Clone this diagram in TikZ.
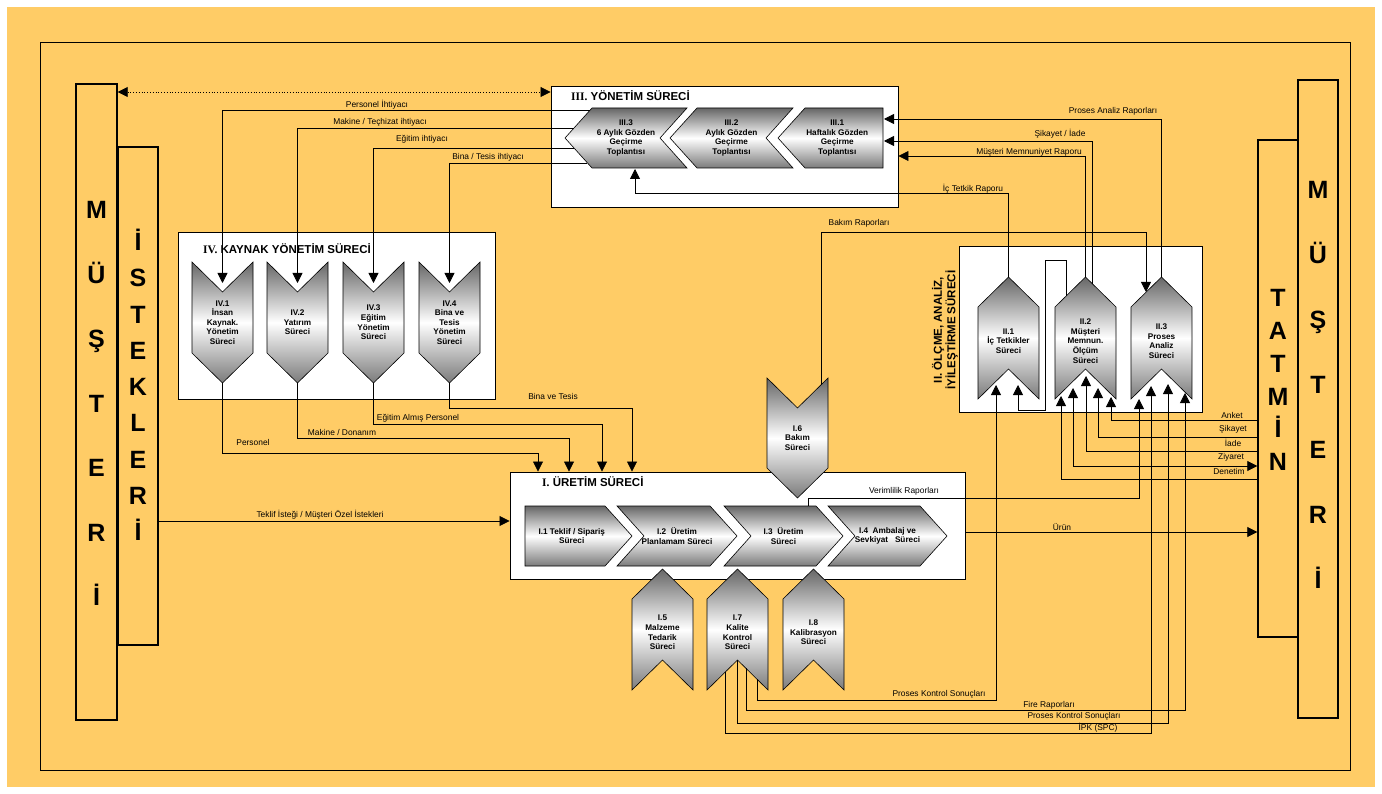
\documentclass[tikz,border=0pt]{standalone}
\usepackage{fontspec}
\setmainfont{Liberation Sans}
\newfontfamily\romfont{Liberation Serif}
\usetikzlibrary{arrows.meta,calc}
\definecolor{bgorange}{HTML}{FFCC66}
\tikzset{
  box/.style={draw,fill=white,line width=0.9pt,inner sep=0pt},
  colbox/.style={draw,fill=bgorange,line width=1.4pt,inner sep=0pt},
  chev/.style={draw,line width=0.6pt,top color=black!60,bottom color=black!52,middle color=white},
  chevtext/.style={font=\bfseries\fontsize{8.2}{9.6}\selectfont,align=center,inner sep=0pt},
  lbl/.style={font=\fontsize{8.4}{9}\selectfont,inner sep=0pt},
  colletters/.style={font=\bfseries\fontsize{25}{#1}\selectfont,align=center,inner sep=0pt},
  sectitle/.style={font=\bfseries\fontsize{11.5}{13.5}\selectfont,inner sep=0pt},
  arr/.style={line width=0.8pt,-{Triangle[length=10pt,width=10pt]}},
  arrboth/.style={line width=0.8pt,{Triangle[length=10pt,width=10pt]}-{Triangle[length=10pt,width=10pt]}}
}
\newcommand{\chevleft}[6]{\shade[chev] (#2,#4)--(#2+27,#4-30)--(#3,#4-30)--(#3-#5,#4)--(#3,#4+30)--(#2+27,#4+30)--cycle;
\node[chevtext] (#1) at ({(#2+13.5+#3-#5/2)/2},#4) {#6};}
\newcommand{\chevright}[6]{\shade[chev] (#2,#4-30)--(#3,#4-30)--(#3+27,#4)--(#3,#4+30)--(#2,#4+30)--(#2+#5,#4)--cycle;
\node[chevtext] (#1) at ({(#2+#5/2+#3+13.5)/2},#4) {#6};}
\newcommand{\chevdown}[5]{\shade[chev] (#2,#3)--(#2+30.5,#3+30)--(#2+61,#3)--(#2+61,#4)--(#2+30.5,#4+30)--(#2,#4)--cycle;
\node[chevtext] (#1) at (#2+30.5,{(#3+#4)/2+15}) {#5};}
\newcommand{\chevup}[5]{\shade[chev] (#2,#3)--(#2+30.5,#3-30)--(#2+61,#3)--(#2+61,#4)--(#2+30.5,#4-30)--(#2,#4)--cycle;
\node[chevtext] (#1) at (#2+30.5,{(#3+#4)/2-12}) {#5};}

\begin{document}
\begin{tikzpicture}[x=1pt,y=-1pt]
\useasboundingbox (0,0) rectangle (1382,794);
\fill[bgorange] (7,7) rectangle (1375,787);
\draw[line width=0.6pt] (40,42) rectangle (1350,770);
\node[colbox,minimum width=41,minimum height=636] (musL) at (96.5,402) {};
\node[colbox,minimum width=40,minimum height=498] (istL) at (138,396) {};
\node[colbox,minimum width=40,minimum height=497] (tatR) at (1278,388.5) {};
\node[colbox,minimum width=40,minimum height=638] (musR) at (1318,399) {};
\node[colletters=64.5] (musLtx) at (96.5,403.5) {M\\Ü\\Ş\\T\\E\\R\\İ};
\node[colletters=36.25] (istLtx) at (138,385) {İ\\S\\T\\E\\K\\L\\E\\R\\İ};
\node[colletters=32.8] (tatRtx) at (1278,380) {T\\A\\T\\M\\İ\\N};
\node[colletters=65] (musRtx) at (1318,385) {M\\Ü\\Ş\\T\\E\\R\\İ};
\node[box,minimum width=347,minimum height=121] (iiibox) at (724.5,146.5) {};
\node[box,minimum width=317,minimum height=167] (ivbox) at (336.5,315.5) {};
\node[box,minimum width=455,minimum height=107] (ibox) at (737.5,525.5) {};
\node[box,minimum width=243,minimum height=166] (iibox) at (1080.5,329) {};
\node[sectitle,anchor=west] (iiiname) at (571,96) {{\romfont III.} YÖNETİM SÜRECİ};
\node[sectitle,anchor=west] (ivname) at (203,249) {{\romfont IV.} KAYNAK YÖNETİM SÜRECİ};
\node[sectitle,anchor=west] (iname) at (542,482) {{\romfont I.} ÜRETİM SÜRECİ};
\node[sectitle,align=center,rotate=90] (iiname) at (945,330) {II. ÖLÇME, ANALİZ,\\İYİLEŞTİRME SÜRECİ};
\chevleft{iii3}{565}{687}{138}{27}{III.3\\6 Aylık Gözden\\Geçirme\\Toplantısı}
\chevleft{iii2}{670}{793}{138}{27}{III.2\\Aylık Gözden\\Geçirme\\Toplantısı}
\chevleft{iii1}{778}{883}{138}{0}{III.1\\Haftalık Gözden\\Geçirme\\Toplantısı}
\chevdown{iv1}{192}{262}{353}{IV.1\\İnsan\\Kaynak.\\Yönetim\\Süreci}
\chevdown{iv2}{267}{262}{353}{IV.2\\Yatırım\\Süreci}
\chevdown{iv3}{343}{262}{353}{IV.3\\Eğitim\\Yönetim\\Süreci}
\chevdown{iv4}{419}{262}{353}{IV.4\\Bina ve\\Tesis\\Yönetim\\Süreci}
\chevright{i1}{525}{605}{536}{0}{I.1 Teklif / Sipariş\\Süreci}
\chevright{i2}{617}{710}{536}{27}{I.2~ Üretim\\Planlamam Süreci}
\chevright{i3}{724}{816}{536}{27}{I.3~ Üretim\\Süreci}
\chevright{i4}{828}{920}{536}{27}{I.4~ Ambalaj ve\\Sevkiyat~~ Süreci}
\chevdown{i6}{767}{378}{468}{I.6\\Bakım\\Süreci}
\chevup{i5}{632}{599}{690}{I.5\\Malzeme\\Tedarik\\Süreci}
\chevup{i7}{707}{599}{690}{I.7\\Kalite\\Kontrol\\Süreci}
\chevup{i8}{783}{599}{690}{I.8\\Kalibrasyon\\Süreci}
\chevup{ii1}{978}{307}{399}{II.1\\İç Tetkikler\\Süreci}
\chevup{ii2}{1055}{307}{399}{II.2\\Müşteri\\Memnun.\\Ölçüm\\Süreci}
\chevup{ii3}{1131}{307}{399}{II.3\\Proses\\Analiz\\Süreci}
\draw[arrboth,dotted] (musL.east |- 0,92) -- (iiibox.west |- 0,92);
\draw[arr] (590,110) -| (iv1 |- 0,283);
\draw[arr] (574,128) -| (iv2 |- 0,283);
\draw[arr] (574,148) -| (iv3 |- 0,283);
\draw[arr] (587,163) -| (iv4 |- 0,283);
\draw[arr] (iv1 |- 0,383) |- (538,453) -- (538,0 |- ibox.north);
\draw[arr] (iv2 |- 0,383) |- (569,438) -- (569,0 |- ibox.north);
\draw[arr] (iv3 |- 0,383) |- (602,424) -- (602,0 |- ibox.north);
\draw[arr] (iv4 |- 0,383) |- (632,408) -- (632,0 |- ibox.north);
\draw[arr] (istL.east |- 0,521) -- (ibox.west |- 0,521);
\draw[arr] (ibox.east |- 0,532) -- (tatR.west |- 0,532);
\draw[arr] (821,385) |- (1146,232) -- (1146,292);
\draw[arr] (808,506) |- (1139,498) -- (1139,399);
\draw[arr] (1008.5,277) |- (635,193) -- (635,169);
\draw[arr] (1085.5,277) |- (iiibox.east |- 0,156);
\draw[arr] (1092,284) |- (884,141);
\draw[arr] (1161.5,277) |- (884,119);
\draw[arr] (1066,296) |- (1045,260) |- (1018,410) -- (1018,385);
\draw[arr] (757,679) |- (996,700) -- (996,385);
\draw[arr] (746,668) |- (1185,710) -- (1185,393);
\draw[arr] (737.5,660) |- (1168,723) -- (1168,384);
\draw[arr] (725,672) |- (1151,733) -- (1151,386);
\draw[arr] (tatR.west |- 0,420) -| (1111,397);
\draw[arr] (tatR.west |- 0,437) -| (1098,388);
\draw[arr] (tatR.west |- 0,451) -| (1086,376);
\draw[arrboth] (tatR.west |- 0,466) -| (1073,388);
\draw[arr] (tatR.west |- 0,479) -| (1061,396);
\node[lbl] (lbPersIht) at (377,105) {Personel İhtiyacı};
\node[lbl] (lbMakIht) at (380,122) {Makine / Teçhizat ihtiyacı};
\node[lbl] (lbEgtIht) at (422,139) {Eğitim ihtiyacı};
\node[lbl] (lbBinaIht) at (488,157) {Bina / Tesis ihtiyacı};
\node[lbl] (lbPers) at (253,442) {Personel};
\node[lbl] (lbMak) at (342,432) {Makine / Donanım};
\node[lbl] (lbEgt) at (418,418) {Eğitim Almış Personel};
\node[lbl] (lbBina) at (553,396) {Bina ve Tesis};
\node[lbl] (lbTeklif) at (320,515) {Teklif İsteği / Müşteri Özel İstekleri};
\node[lbl] (lbBakim) at (859,223) {Bakım Raporları};
\node[lbl] (lbVerim) at (904,491) {Verimlilik Raporları};
\node[lbl] (lbIcTet) at (973,189) {İç Tetkik Raporu};
\node[lbl] (lbMMR) at (1029,152) {Müşteri Memnuniyet Raporu};
\node[lbl] (lbSikIade) at (1060,134) {Şikayet / İade};
\node[lbl] (lbPAR) at (1113,111) {Proses Analiz Raporları};
\node[lbl] (lbPKS) at (939,694) {Proses Kontrol Sonuçları};
\node[lbl] (lbFire) at (1049,705) {Fire Raporları};
\node[lbl] (lbPKS2) at (1074,716) {Proses Kontrol Sonuçları};
\node[lbl] (lbIPK) at (1098,728) {İPK (SPC)};
\node[lbl] (lbUrun) at (1062,527) {Ürün};
\node[lbl] (lbAnket) at (1232,415) {Anket};
\node[lbl] (lbSikayet) at (1233,429) {Şikayet};
\node[lbl] (lbIade) at (1233,443) {İade};
\node[lbl] (lbZiyaret) at (1231,457) {Ziyaret};
\node[lbl] (lbDenetim) at (1229,471) {Denetim};
\end{tikzpicture}
\end{document}
